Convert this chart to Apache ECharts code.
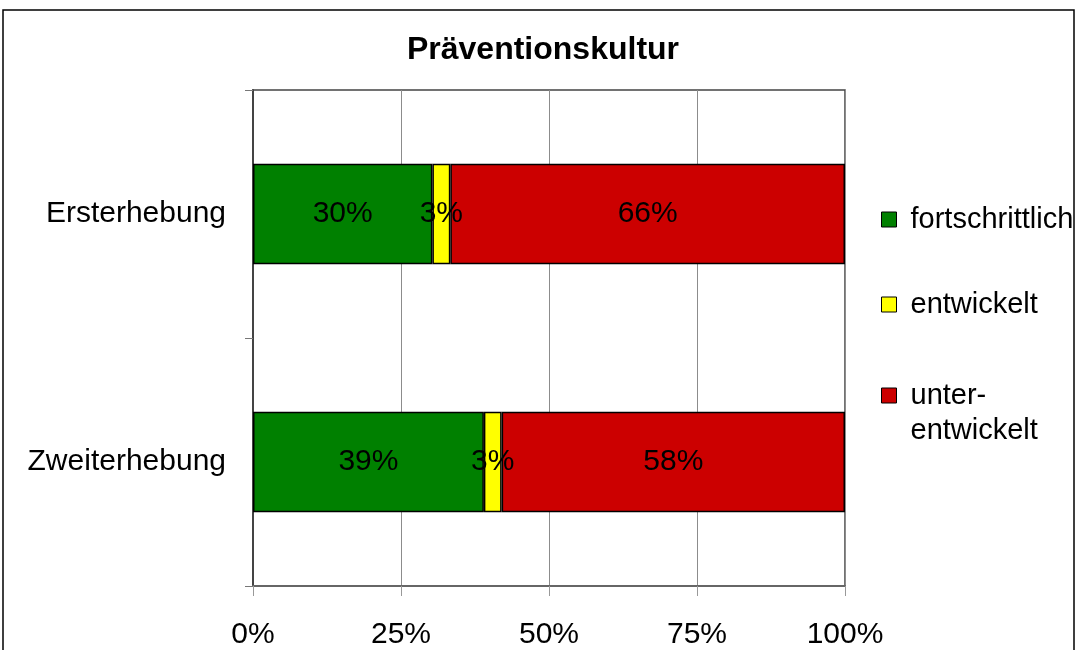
<!DOCTYPE html>
<html>
<head>
<meta charset="utf-8">
<script src="https://cdn.jsdelivr.net/npm/echarts@6/dist/echarts.min.js"></script>
<style>
  html, body { margin: 0; padding: 0; background: #fff; }
  #chart { width: 1077px; height: 650px; }
</style>
</head>
<body>
<div id="chart"></div>
<script>
const categories = ["Ersterhebung", "Zweiterhebung"];
const seriesNames = ["fortschrittlich", "entwickelt", "unter-entwickelt"];
const seriesColors = ["#008000", "#ffff00", "#cc0000"];
// percentages as printed in the bars, one array per series
const fortschrittlich = [30, 39];
const entwickelt = [3, 3];
const unterentwickelt = [66, 58];
const xTicks = [0, 25, 50, 75, 100];

const raw = [fortschrittlich, entwickelt, unterentwickelt];
// 100% stacked: every row is scaled to sum to 100
const rowSums = categories.map((_, i) => raw.reduce((s, arr) => s + arr[i], 0));

const FONT = "Liberation Sans, Arial, sans-serif";

const chart = echarts.init(document.getElementById("chart"));

const legendTops = [202, 287, 343];

function legendLabel(name) {
  // legend text is always vertically centred on the icon, so the wrapped
  // label gets a blank first line to keep "unter-" level with its square
  if (name === "unter-entwickelt") return " \nunter-\nentwickelt";
  return name;
}

chart.setOption({
  animation: false,
  title: {
    text: "Präventionskultur",
    left: 538,
    top: 29,
    textAlign: "center",
    textStyle: { fontFamily: FONT, fontSize: 32, fontWeight: "bold", color: "#000" },
  },
  legend: seriesNames.map((name, i) => ({
    data: [name],
    orient: "vertical",
    left: 881,
    top: legendTops[i],
    padding: 0,
    icon: "rect",
    itemWidth: 15,
    itemHeight: 15,
    itemStyle: { borderColor: "#000", borderWidth: 1 },
    selectedMode: false,
    formatter: legendLabel,
    textStyle: {
      fontFamily: FONT,
      fontSize: 29,
      lineHeight: 35,
      color: "#000",
      padding: [0, 0, 0, 9],
    },
  })),
  grid: { left: 253, right: 232, top: 90, bottom: 62, show: true, borderColor: "#444", borderWidth: 1.5 },
  xAxis: {
    type: "value",
    min: xTicks[0],
    max: xTicks[xTicks.length - 1],
    interval: 25,
    axisLine: { show: true, lineStyle: { color: "#666", width: 2 } },
    axisTick: { show: true, length: 10, lineStyle: { color: "#999" } },
    splitLine: { show: true, lineStyle: { color: "#8c8c8c", width: 1 } },
    axisLabel: {
      formatter: "{value}%",
      margin: 34,
      fontFamily: FONT,
      fontSize: 30,
      color: "#000",
    },
  },
  yAxis: {
    type: "category",
    data: categories,
    inverse: true,
    axisLine: { show: true, lineStyle: { color: "#444", width: 2 } },
    axisTick: { show: true, length: 8, lineStyle: { color: "#777" } },
    axisLabel: { margin: 27, fontFamily: FONT, fontSize: 30, color: "#000" },
  },
  series: seriesNames.map((name, s) => ({
    name: name,
    type: "bar",
    stack: "total",
    barWidth: "40.5%",
    itemStyle: { color: seriesColors[s], borderColor: "#000", borderWidth: 1.5 },
    label: {
      show: true,
      position: "inside",
      fontFamily: FONT,
      fontSize: 30,
      color: "#000",
      formatter: (p) => raw[s][p.dataIndex] + "%",
    },
    data: raw[s].map((v, i) => (v / rowSums[i]) * 100),
  })),
  graphic: [
    {
      type: "rect",
      shape: { x: 3, y: 10, width: 1071, height: 660 },
      style: { fill: "none", stroke: "#000", lineWidth: 1.5 },
      silent: true,
    },
  ],
});
</script>
</body>
</html>
